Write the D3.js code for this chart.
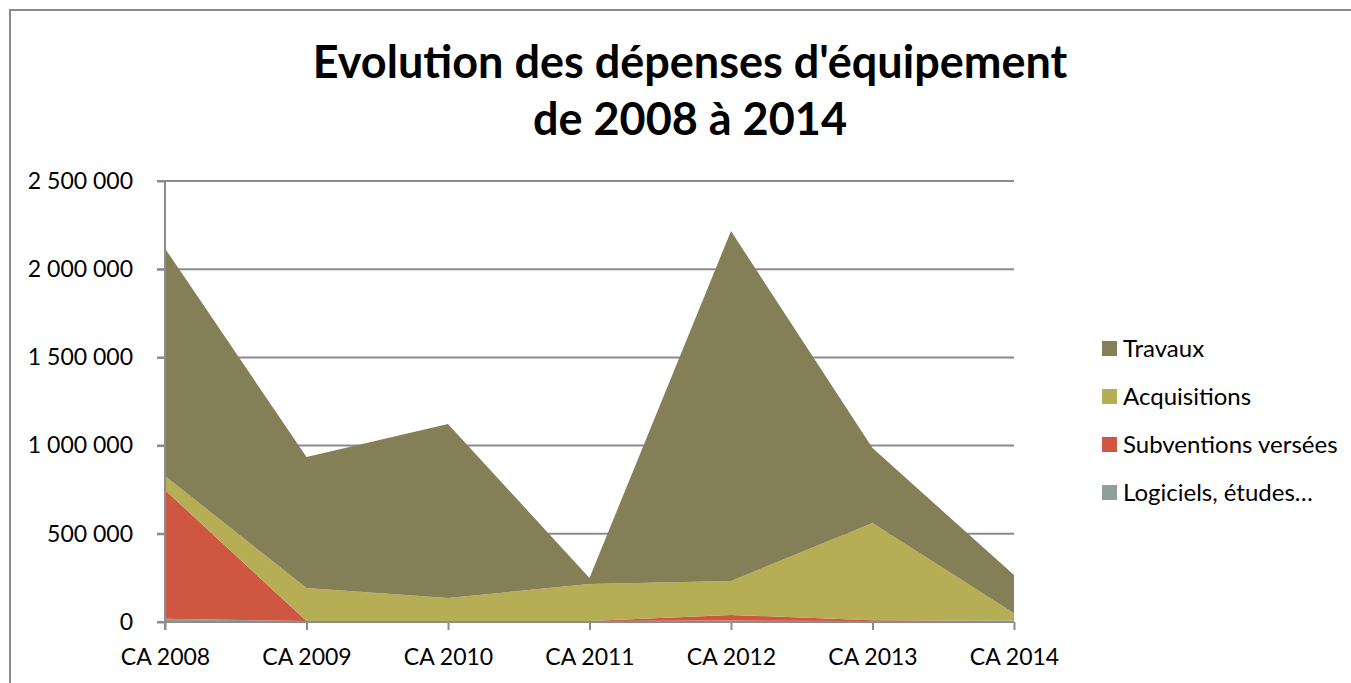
<!DOCTYPE html>
<html>
<head>
<meta charset="utf-8">
<script src="https://cdn.jsdelivr.net/npm/d3@7"></script>
<style>
  body { margin: 0; background: #fff; }
  svg { display: block; }
</style>
</head>
<body>
<div class="root"></div>
<script>
// Chart data
var categories = ["CA 2008", "CA 2009", "CA 2010", "CA 2011", "CA 2012", "CA 2013", "CA 2014"];
var logiciels = [18000, 6000, 5000, 5000, 8000, 6000, 8000];
var subventions = [730000, 0, 0, 0, 32000, 4000, 0];
var acquisitions = [80000, 187000, 131000, 210000, 192000, 551000, 42000];
var travaux = [1290000, 742000, 986000, 35000, 1984000, 425000, 216000];
var seriesNames = ["Logiciels, études…", "Subventions versées", "Acquisitions", "Travaux"];
var seriesColors = ["#8FA096", "#CF5641", "#B5AE54", "#857F58"];
var yTicks = [0, 500000, 1000000, 1500000, 2000000, 2500000];

var W = 1351, H = 683;
var font = "Lato, 'DejaVu Sans', sans-serif";

// build rows for the stack
var keys = ["log", "sub", "acq", "trav"];
var rows = categories.map(function (c, i) {
  return { cat: c, log: logiciels[i], sub: subventions[i], acq: acquisitions[i], trav: travaux[i] };
});
var stacked = d3.stack().keys(keys)(rows);

var svg = d3.select(".root").append("svg")
  .attr("width", W)
  .attr("height", H);

// outer frame
svg.append("rect")
  .attr("x", 10).attr("y", 10)
  .attr("width", W + 20).attr("height", H + 20)
  .attr("fill", "#fff")
  .attr("stroke", "#8a8a8a")
  .attr("stroke-width", 2);

var xScale = d3.scalePoint().domain(categories).range([165, 1014]);
var yScale = d3.scaleLinear().domain([0, 2500000]).range([622, 181]);

var loc = d3.formatLocale({ decimal: ",", thousands: " ", grouping: [3], currency: ["", " €"] });
var fmt = loc.format(",d");

// horizontal gridlines
svg.append("g")
  .selectAll("line")
  .data(yTicks.filter(function (d) { return d > 0; }))
  .join("line")
  .attr("x1", 157).attr("x2", 1014)
  .attr("y1", function (d) { return yScale(d); })
  .attr("y2", function (d) { return yScale(d); })
  .attr("stroke", "#8c8c8c")
  .attr("stroke-width", 2);

// stacked areas
var area = d3.area()
  .x(function (d) { return xScale(d.data.cat); })
  .y0(function (d) { return yScale(d[0]); })
  .y1(function (d) { return yScale(d[1]); });

svg.append("g")
  .selectAll("path")
  .data(stacked)
  .join("path")
  .attr("fill", function (d, i) { return seriesColors[i]; })
  .attr("d", area);

// y axis
var yAxis = d3.axisLeft(yScale).tickValues(yTicks).tickSize(8).tickFormat(fmt);
var gy = svg.append("g")
  .attr("transform", "translate(165,0)")
  .call(yAxis);
gy.select(".domain").attr("stroke", "#8c8c8c").attr("stroke-width", 2)
  .attr("d", "M0," + yScale(2500000) + "V630");
gy.selectAll(".tick line").attr("stroke", "#8c8c8c").attr("stroke-width", 2);
gy.selectAll(".tick text")
  .attr("x", -32)
  .attr("font-family", font)
  .attr("font-size", 23)
  .attr("fill", "#000");

// x axis
var xAxis = d3.axisBottom(xScale).tickSize(8).tickSizeOuter(0);
var gx = svg.append("g")
  .attr("transform", "translate(0," + yScale(0) + ")")
  .call(xAxis);
gx.select(".domain").attr("stroke", "#8c8c8c").attr("stroke-width", 2)
  .attr("d", "M157,0H1014");
gx.selectAll(".tick line").attr("stroke", "#8c8c8c").attr("stroke-width", 2);
gx.selectAll(".tick text")
  .attr("y", 27)
  .attr("font-family", font)
  .attr("font-size", 23)
  .attr("fill", "#000");

// title
var titleLines = ["Evolution des dépenses d'équipement", "de 2008 à 2014"];
var title = svg.append("g")
  .attr("font-family", font)
  .attr("font-weight", 700)
  .attr("font-size", 45)
  .attr("text-anchor", "middle")
  .attr("fill", "#000");
title.selectAll("text")
  .data(titleLines)
  .join("text")
  .attr("x", 690)
  .attr("y", function (d, i) { return 78 + i * 57; })
  .text(function (d) { return d; });

// legend (top entry is Travaux)
var legendOrder = [3, 2, 1, 0];
var legend = svg.append("g")
  .selectAll("g")
  .data(legendOrder)
  .join("g")
  .attr("transform", function (d, i) { return "translate(1102," + (341 + i * 48) + ")"; });
legend.append("rect")
  .attr("width", 15).attr("height", 15)
  .attr("fill", function (d) { return seriesColors[d]; });
legend.append("text")
  .attr("x", 21)
  .attr("y", 8)
  .attr("dy", "0.35em")
  .attr("font-family", font)
  .attr("font-size", 24)
  .attr("fill", "#000")
  .text(function (d) { return seriesNames[d]; });
</script>
</body>
</html>
